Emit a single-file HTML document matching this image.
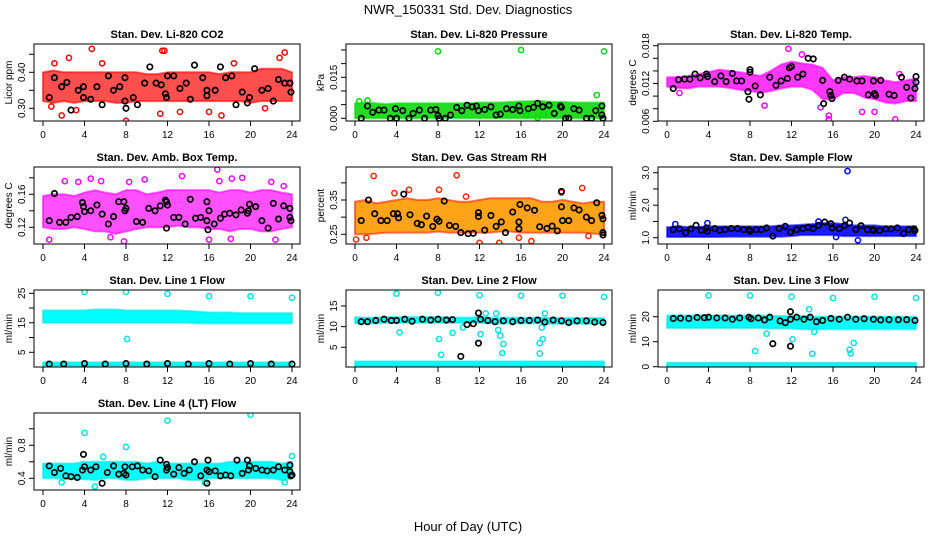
<!DOCTYPE html>
<html><head><meta charset="utf-8"><style>
body{margin:0;background:#fff;}
svg{display:block;font-family:"Liberation Sans",sans-serif;}
</style></head><body>
<svg id="chart" width="936" height="540" viewBox="0 0 936 540">
<text x="468" y="14" text-anchor="middle" font-size="13">NWR_150331 Std. Dev. Diagnostics</text>
<text x="468" y="531" text-anchor="middle" font-size="13">Hour of Day (UTC)</text>
</svg>
<script>
const hours = [0,1,2,3,4,5,6,7,8,9,10,11,12,13,14,15,16,17,18,19,20,21,22,23,24];
const xTicks = [0,4,8,12,16,20,24];

const co2Lo = [0.32,0.315,0.32,0.315,0.32,0.32,0.32,0.315,0.315,0.32,0.32,0.32,0.32,0.32,0.32,0.32,0.32,0.32,0.32,0.32,0.315,0.32,0.32,0.32,0.32];
const co2Hi = [0.40,0.405,0.40,0.40,0.40,0.40,0.40,0.40,0.40,0.40,0.395,0.395,0.40,0.40,0.40,0.40,0.40,0.395,0.40,0.40,0.40,0.41,0.41,0.41,0.40];
const co2Out = [[4.7,0.465],[11.5,0.46],[11.7,0.46],[23.3,0.455],[1.8,0.28],[8,0.265],[17.2,0.28],[11.3,0.285],[2.5,0.44],[22.8,0.44],[1.1,0.425],[18.4,0.425],[3.2,0.295],[16,0.29],[0.8,0.305],[21.4,0.30],[13.2,0.29],[5.7,0.425]];
const co2Blk = [[0.6,0.33],[1.1,0.385],[1.8,0.36],[2.3,0.372],[2.7,0.295],[3.4,0.35],[3.9,0.36],[3.9,0.33],[4.6,0.325],[5.2,0.36],[5.7,0.31],[6.3,0.39],[6.8,0.35],[7.4,0.36],[7.9,0.385],[7.9,0.32],[8,0.30],[8.7,0.33],[9.1,0.31],[9.8,0.37],[10.3,0.415],[10.9,0.37],[11.4,0.365],[11.8,0.34],[11.9,0.33],[12,0.39],[12.6,0.39],[13.2,0.355],[13.8,0.37],[14.2,0.325],[14.6,0.42],[15.4,0.385],[15.8,0.35],[15.8,0.335],[16.6,0.35],[17.1,0.415],[17.6,0.385],[18.2,0.39],[18.6,0.31],[19.2,0.345],[19.7,0.315],[19.9,0.33],[20.4,0.41],[21.1,0.35],[21.7,0.355],[22.2,0.32],[22.7,0.38],[23.3,0.37],[23.8,0.37],[23.9,0.345]];

const presLo = [0,0,0,0,0,0,0,0,0,0,0,0,0,0,0,0,0,0,0,0,0,0,0,0,0];
const presHi = [0.0055,0.0058,0.0055,0.0052,0.0055,0.0055,0.0055,0.0055,0.0055,0.0055,0.0055,0.0055,0.0058,0.0058,0.0058,0.006,0.0062,0.0063,0.0063,0.006,0.006,0.0058,0.0058,0.0058,0.0058];
const presOut = [[8,0.0245],[16,0.025],[24,0.0245],[23.3,0.0085],[1.2,0.0065],[0.4,0.0062],[16.5,0.0012],[18.2,0.0015],[17.6,0.0002]];
const presBlk = [[0.6,0],[1.2,0.0045],[1.7,0.0022],[2.3,0.003],[2.8,0.003],[3.4,0],[3.9,0.0035],[4,0],[4.6,0.0028],[5.2,0],[5.6,0.0018],[6.2,0.003],[6.7,0],[7.3,0.003],[7.8,0.0032],[8,0.001],[8.1,0],[8.7,0],[9.2,0.0012],[9.8,0.004],[10.3,0.0028],[10.8,0.0048],[11.3,0.0042],[11.7,0.0045],[11.9,0.0028],[12.5,0.0032],[13.1,0.0042],[13.6,0.0012],[14,0.0015],[14.6,0.0035],[15.2,0.0032],[15.8,0.0045],[15.9,0.0028],[16.7,0.0035],[17.2,0.004],[17.6,0.0055],[18.1,0.0042],[18.7,0.0048],[19.2,0.0018],[19.8,0.0045],[19.9,0.004],[20.3,0],[20.6,0],[21.1,0.0035],[21.6,0.003],[22.3,0],[22.8,0],[23.2,0.0028],[23.8,0.0045],[23.8,0.0012],[23.9,0]];

const tempLo = [0.0115,0.0113,0.0112,0.0115,0.0115,0.0115,0.0113,0.011,0.0108,0.0105,0.0108,0.0112,0.0115,0.0115,0.011,0.0095,0.0095,0.0105,0.0105,0.0098,0.0095,0.009,0.0088,0.0092,0.0092];
const tempHi = [0.013,0.013,0.0132,0.0135,0.0138,0.0142,0.014,0.0138,0.0135,0.0132,0.014,0.015,0.0155,0.0152,0.015,0.0145,0.0125,0.013,0.013,0.0132,0.013,0.0125,0.0122,0.0125,0.0128];
const tempOut = [[11.7,0.0175],[15.6,0.0063],[15.6,0.0069],[18.8,0.0075],[20,0.0075],[22,0.0063],[13,0.0166],[14.8,0.0082],[1.2,0.0105],[9.4,0.0085],[22.4,0.0135]];
const tempBlk = [[0.6,0.0112],[1.1,0.0126],[1.7,0.0127],[2.2,0.0127],[2.7,0.0135],[3.2,0.0129],[3.8,0.0135],[3.9,0.0131],[4.6,0.0123],[5.2,0.0132],[5.7,0.0123],[6.3,0.0136],[6.7,0.0124],[7.2,0.0124],[7.8,0.0107],[7.9,0.0095],[8,0.0142],[8,0.0138],[8.5,0.0116],[9,0.0102],[9.9,0.013],[10.5,0.0117],[11,0.0124],[11.6,0.0128],[11.8,0.0145],[12,0.0147],[12.6,0.013],[13.1,0.0135],[13.6,0.016],[14.1,0.0159],[15,0.0125],[15.1,0.0088],[15.7,0.0107],[15.8,0.0101],[15.9,0.0096],[16.5,0.0125],[17.1,0.013],[17.6,0.0127],[18.3,0.0124],[18.8,0.0124],[19.4,0.0102],[19.9,0.0124],[20,0.0104],[20.1,0.0101],[20.6,0.0125],[21.4,0.0103],[21.9,0.0101],[22.6,0.013],[23.1,0.0114],[23.5,0.0097],[24,0.0131],[24,0.0122],[23.9,0.0112]];

const ambLo = [0.12,0.118,0.118,0.12,0.118,0.115,0.115,0.112,0.115,0.118,0.12,0.12,0.12,0.122,0.12,0.12,0.118,0.118,0.115,0.118,0.118,0.115,0.115,0.118,0.12];
const ambHi = [0.158,0.16,0.16,0.158,0.162,0.165,0.162,0.16,0.165,0.165,0.16,0.162,0.165,0.165,0.165,0.165,0.165,0.162,0.165,0.165,0.162,0.165,0.165,0.162,0.16];
const ambOut = [[0.6,0.105],[2.1,0.176],[3.4,0.175],[4.6,0.179],[5.6,0.176],[8.3,0.175],[9.8,0.178],[13.4,0.182],[16.8,0.19],[17,0.176],[18.2,0.179],[19.2,0.18],[22,0.175],[23.2,0.17],[7.8,0.103],[16,0.105],[22.4,0.105],[18.1,0.106],[6.5,0.108]];
const ambBlk = [[0.6,0.128],[1.1,0.161],[1.6,0.126],[2.2,0.126],[2.7,0.132],[3.3,0.133],[3.8,0.15],[3.9,0.145],[4,0.139],[4.6,0.14],[5.2,0.147],[5.7,0.136],[6.3,0.124],[6.8,0.133],[7.3,0.151],[7.8,0.151],[7.9,0.14],[8,0.143],[8.6,0.093],[9,0.127],[9.6,0.126],[10.2,0.143],[10.8,0.14],[11.3,0.146],[11.8,0.153],[11.9,0.151],[11.9,0.119],[12,0.147],[12.6,0.132],[13.1,0.132],[13.7,0.124],[14.2,0.154],[14.7,0.131],[15.2,0.132],[15.8,0.128],[15.8,0.151],[15.9,0.117],[16,0.14],[16.5,0.124],[17.1,0.131],[17.5,0.136],[18,0.137],[18.6,0.135],[19.1,0.141],[19.7,0.137],[19.8,0.14],[19.9,0.148],[20.5,0.145],[21.1,0.128],[21.7,0.119],[22.2,0.149],[22.7,0.13],[23.2,0.146],[23.8,0.143],[23.8,0.132],[23.9,0.128]];

const rhLo = [0.25,0.25,0.252,0.255,0.255,0.255,0.255,0.255,0.258,0.255,0.255,0.255,0.255,0.255,0.258,0.258,0.255,0.255,0.255,0.255,0.255,0.255,0.255,0.252,0.25];
const rhHi = [0.345,0.35,0.34,0.345,0.35,0.355,0.35,0.35,0.355,0.35,0.345,0.345,0.35,0.355,0.355,0.355,0.355,0.355,0.345,0.345,0.35,0.345,0.34,0.345,0.345];
const rhOut = [[0.1,0.235],[1.8,0.42],[9.8,0.422],[12,0.225],[17,0.23],[21.9,0.385],[1.1,0.24],[8.1,0.38],[10.7,0.36],[13.9,0.225],[15.8,0.24],[22.5,0.245],[5.2,0.38],[3.8,0.37],[19.9,0.372]];
const rhBlk = [[0.6,0.29],[1.3,0.35],[1.9,0.31],[2.5,0.29],[3.1,0.29],[3.7,0.31],[4.1,0.31],[4.2,0.298],[4.7,0.367],[5.3,0.307],[6,0.282],[6.4,0.278],[6.9,0.303],[7.5,0.273],[7.9,0.294],[8.1,0.288],[8.6,0.347],[9.1,0.276],[9.7,0.273],[10.2,0.255],[10.9,0.252],[11.4,0.253],[11.9,0.313],[11.9,0.302],[12.5,0.262],[13.1,0.305],[13.6,0.273],[14.1,0.286],[14.5,0.255],[15.2,0.315],[15.8,0.286],[15.8,0.266],[15.9,0.337],[16.6,0.327],[17.3,0.32],[17.8,0.272],[18.5,0.267],[19,0.274],[19.5,0.26],[19.9,0.375],[19.9,0.33],[20,0.29],[20.6,0.29],[21.1,0.327],[21.6,0.321],[22.3,0.3],[22.8,0.29],[23.3,0.342],[23.8,0.305],[23.9,0.295],[23.9,0.255],[23.9,0.248]];

const sfLo = [1.02,1.02,1.02,1.02,1.02,1.02,1.03,1.03,1.03,1.03,1.03,1.03,1.05,1.08,1.08,1.08,1.08,1.05,1.05,1.05,1.05,1.05,1.05,1.05,1.05];
const sfHi = [1.32,1.35,1.33,1.33,1.35,1.35,1.35,1.35,1.35,1.35,1.35,1.38,1.38,1.4,1.42,1.45,1.45,1.42,1.38,1.38,1.38,1.35,1.35,1.35,1.35];
const sfOut = [[17.4,3.05],[17.2,1.55],[18.4,0.92],[14.6,1.5],[16.3,1.02],[3.9,1.45],[0.8,1.42]];
const sfBlk = [[0.6,1.25],[1.2,1.27],[1.8,1.15],[2.3,1.27],[2.8,1.38],[3.3,1.23],[3.8,1.3],[3.9,1.2],[4.6,1.28],[5.1,1.23],[5.6,1.25],[6.2,1.28],[6.8,1.28],[7.4,1.25],[7.9,1.25],[8,1.2],[8.6,1.25],[9.1,1.25],[9.6,1.3],[10.2,1.05],[10.8,1.28],[11.4,1.35],[11.9,1.17],[12.5,1.25],[13.1,1.28],[13.6,1.32],[14.1,1.28],[14.6,1.38],[15.2,1.48],[15.8,1.43],[15.9,1.3],[16.6,1.28],[17.1,1.37],[17.6,1.45],[18.2,1.25],[18.7,1.37],[19.3,1.25],[19.8,1.25],[19.9,1.22],[20.5,1.22],[21.1,1.27],[21.6,1.27],[22.2,1.3],[22.8,1.13],[23.3,1.25],[23.8,1.27],[23.9,1.22]];

const l1Lo = [15,15,15,15,15,15,15,15,15,15,15,15,15,15,15,14.8,14.8,14.8,14.8,14.8,14.8,14.8,14.8,14.8,14.8];
const l1Hi = [19.2,19.2,19.2,19.2,19.2,19.5,19.5,19.5,19.2,19.2,19.2,19.2,19.2,19.2,19,18.8,18.5,18.5,18.5,18.3,18.3,18.3,18.3,18.3,18.3];
const l1Out = [[4,25.5],[8,25.5],[12,24.8],[16,24],[20,24],[24,23.5],[8.1,9.5]];
const l1Blk = [[0.6,1],[2,1],[4,1.2],[6,1],[8,1.2],[10,1],[12,1.2],[14,1],[16,1.2],[18,1],[20,1.2],[22,1],[24,1]];

const l2Lo = [10.8,10.8,10.8,10.9,10.9,10.9,10.9,10.9,10.9,10.9,10.9,10.9,10.9,10.8,10.8,10.8,10.8,10.8,10.8,10.7,10.7,10.7,10.7,10.7,10.7];
const l2Hi = [12.3,12.2,12.2,12.3,12.3,12.3,12.3,12.3,12.3,12.3,12.2,12.2,12.3,12.2,12.2,12.2,12.2,12.2,12.2,12.1,12.1,12.1,12.1,12.1,12.1];
const l2Out = [[4,18],[8,18.2],[12,17.6],[16,17.5],[20,17.5],[24,17.2],[4.3,8.6],[8.1,7],[8.3,3.2],[9.4,8.5],[11.9,12],[12.1,8.2],[12.6,13.2],[13.6,13.2],[13.8,9.2],[14,7.8],[14.2,3.6],[14.3,5.8],[17.8,6],[17.8,3.5],[18,9.8],[18.1,7],[18.3,13.2],[10.4,9.8]];
const l2Blk = [[0.6,11.2],[1.2,11.2],[2,11.5],[2.8,11.8],[3.5,11.5],[4,11.5],[4.8,11.8],[5.5,11.3],[6.5,11.8],[7.3,11.6],[8,11.8],[8.8,11.6],[9.4,11.7],[10.2,2.8],[10.8,10.5],[11.4,10.7],[11.9,13.3],[11.9,6],[12.1,11.8],[12.8,11.5],[13.5,11.2],[14.3,11.4],[15.2,11.2],[16,11.5],[16.8,11.5],[17.6,11.6],[18.3,11.1],[19.1,11.6],[19.9,11.4],[20.6,11.0],[21.4,11.4],[22.3,11.4],[23.1,11.1],[23.9,11]];

const l3Lo = [15.5,15.5,15.5,15.5,15.5,15.5,15.5,15.5,15.5,15.5,15.3,15.3,15.3,15,15,15,15,15,15,15,15,15,15,15,15];
const l3Hi = [20.5,20.5,20.5,20.5,20.5,20.5,20.5,20.5,20.5,20.5,20.3,20.3,20.3,20.3,20,20,20,20,20,20,20,20,20,20,20];
const l3Out = [[4,28.5],[8,28.5],[12,28],[16,27.5],[20,28],[24,27.5],[8.5,6.3],[9.6,13.2],[12.1,11],[13.7,23],[14,5.2],[17.6,6.8],[17.7,5.3],[18,9.5],[14.2,14]];
const l3Blk = [[0.6,19.3],[1.3,19.4],[2.1,19.3],[2.9,19.7],[3.6,19.6],[4,19.8],[4.8,19.5],[5.6,19.5],[6.3,19],[7,19.5],[7.9,19.8],[8.1,19.2],[8.8,19.5],[9.4,18.7],[9.9,19.8],[10.2,9.2],[10.9,18.3],[11.4,17.6],[11.9,22],[11.9,19],[11.9,8.2],[12.5,19.8],[13.2,19],[13.8,19.8],[14.4,18],[15,18.5],[15.8,19.3],[16.6,19],[17.4,19.8],[18.2,19],[19,19.2],[19.9,19],[20.6,18.7],[21.4,18.8],[22.3,18.8],[23.1,18.8],[23.9,18.5]];

const l4Lo = [0.4,0.4,0.39,0.39,0.39,0.38,0.4,0.4,0.38,0.38,0.4,0.4,0.4,0.4,0.38,0.38,0.4,0.4,0.4,0.4,0.4,0.4,0.4,0.38,0.4];
const l4Hi = [0.58,0.58,0.58,0.58,0.6,0.6,0.6,0.6,0.6,0.6,0.58,0.6,0.58,0.58,0.58,0.58,0.58,0.58,0.6,0.6,0.6,0.6,0.6,0.58,0.6];
const l4Out = [[4,0.95],[12,1.1],[20,1.17],[8,0.78],[5,0.3],[24,0.67],[5.8,0.66],[1.8,0.35],[15.6,0.35],[23.3,0.35]];
const l4Blk = [[0.6,0.55],[1.1,0.47],[1.7,0.52],[2.2,0.43],[2.7,0.42],[3.3,0.41],[3.8,0.5],[3.9,0.69],[4,0.54],[4.6,0.5],[5.1,0.54],[5.7,0.34],[6.2,0.47],[6.8,0.55],[7.3,0.45],[7.8,0.46],[7.9,0.54],[8,0.44],[8.6,0.54],[9.1,0.55],[9.6,0.5],[10.2,0.49],[10.8,0.42],[11.3,0.62],[11.9,0.57],[11.9,0.5],[12,0.53],[12.6,0.45],[13.1,0.53],[13.6,0.46],[14.1,0.5],[14.6,0.6],[15.2,0.43],[15.8,0.34],[15.8,0.5],[15.9,0.62],[16,0.48],[16.6,0.49],[17.1,0.43],[17.6,0.44],[18.1,0.43],[18.7,0.62],[19.2,0.46],[19.7,0.62],[19.8,0.5],[19.9,0.55],[20.5,0.52],[21.1,0.5],[21.6,0.49],[22.2,0.5],[22.7,0.54],[23.3,0.5],[23.8,0.48],[23.8,0.56],[23.9,0.43],[24,0.44]];

const panels = [
 {n:'co2',c:0,r:0,t:'Stan. Dev. Li-820 CO2',yl:'Licor ppm',cal:[0.40,72.3,0.30,108.3],ticks:[0.30,0.35,0.40,0.45],labs:['0.30','0.40'],labv:[0.30,0.40],col:'#ff0000',fill:'#ff3030',op:0.85,bands:[[co2Lo,co2Hi]],out:co2Out,blk:co2Blk},
 {n:'pressure',c:1,r:0,t:'Stan. Dev. Li-820 Pressure',yl:'kPa',cal:[0,118.3,0.015,77.3],ticks:[0,0.005,0.01,0.015,0.02,0.025],labs:['0.000','0.015'],labv:[0,0.015],col:'#00dd00',fill:'#22dd22',op:1,bands:[[presLo,presHi]],out:presOut,blk:presBlk},
 {n:'li820-temp',c:2,r:0,t:'Stan. Dev. Li-820 Temp.',yl:'degrees C',cal:[0.018,45.7,0.006,121.3],ticks:[0.006,0.008,0.01,0.012,0.014,0.016,0.018],labs:['0.006','0.012','0.018'],labv:[0.006,0.012,0.018],col:'#ff00ff',fill:'#ff22ff',op:0.9,bands:[[tempLo,tempHi]],out:tempOut,blk:tempBlk},
 {n:'amb-box-temp',c:0,r:1,t:'Stan. Dev. Amb. Box Temp.',yl:'degrees C',cal:[0.16,194.3,0.12,227.3],ticks:[0.12,0.14,0.16,0.18],labs:['0.12','0.16'],labv:[0.12,0.16],col:'#ff00ff',fill:'#ff33ff',op:0.85,bands:[[ambLo,ambHi]],out:ambOut,blk:ambBlk},
 {n:'gas-stream-rh',c:1,r:1,t:'Stan. Dev. Gas Stream RH',yl:'percent',cal:[0.35,200,0.25,234.3],ticks:[0.25,0.30,0.35,0.40],labs:['0.25','0.35'],labv:[0.25,0.35],col:'#ff2200',fill:'#ff9a00',op:0.9,bands:[[rhLo,rhHi]],out:rhOut,blk:rhBlk},
 {n:'sample-flow',c:2,r:1,t:'Stan. Dev. Sample Flow',yl:'ml/min',cal:[3.0,172.7,1.0,237.7],ticks:[1,1.5,2,2.5,3],labs:['1.0','2.0','3.0'],labv:[1,2,3],col:'#0000ff',fill:'#1a1aff',op:1,bands:[[sfLo,sfHi]],out:sfOut,blk:sfBlk},
 {n:'line1-flow',c:0,r:2,t:'Stan. Dev. Line 1 Flow',yl:'ml/min',cal:[25,293.3,5,352.3],ticks:[5,10,15,20,25],labs:['5','15','25'],labv:[5,15,25],col:'#00e5e5',fill:'#00ffff',op:1,bands:[[l1Lo,l1Hi],[hours.map(()=>0.4),hours.map(()=>1.6)]],out:l1Out,blk:l1Blk},
 {n:'line2-flow',c:1,r:2,t:'Stan. Dev. Line 2 Flow',yl:'ml/min',cal:[15,306,5,347.3],ticks:[5,10,15],labs:['5','10','15'],labv:[5,10,15],col:'#00e5e5',fill:'#00ffff',op:1,bands:[[l2Lo,l2Hi],[hours.map(()=>0.4),hours.map(()=>1.6)]],out:l2Out,blk:l2Blk},
 {n:'line3-flow',c:2,r:2,t:'Stan. Dev. Line 3 Flow',yl:'ml/min',cal:[20,316.7,0,366.7],ticks:[0,10,20],labs:['0','10','20'],labv:[0,10,20],col:'#00e5e5',fill:'#00ffff',op:1,bands:[[l3Lo,l3Hi],[hours.map(()=>0),hours.map(()=>1.6)]],out:l3Out,blk:l3Blk},
 {n:'line4-flow',c:0,r:3,t:'Stan. Dev. Line 4 (LT) Flow',yl:'ml/min',cal:[0.8,445.3,0.4,478.3],ticks:[0.4,0.6,0.8,1.0],labs:['0.4','0.8'],labv:[0.4,0.8],col:'#00e5e5',fill:'#00ffff',op:1,bands:[[l4Lo,l4Hi]],out:l4Out,blk:l4Blk}
];

const NS='http://www.w3.org/2000/svg';
const svg=document.getElementById('chart');
function mk(tag,parent,attrs){const e=document.createElementNS(NS,tag);for(const k in attrs)e.setAttribute(k,attrs[k]);parent.appendChild(e);return e;}

panels.forEach(p=>{
  const x0=43+312*p.c, x24=292+312*p.c;
  const top=44+123*p.r, bot=top+77;
  const left=x0-9, right=x24+8;
  const xs=h=>x0+(x24-x0)*h/24;
  const [v1,y1,v2,y2]=p.cal;
  const ys=v=>y1+(v-v1)*(y2-y1)/(v2-v1);
  const g=mk('g',svg,{});
  
  
  const clip=mk('clipPath',g,{id:'clip-'+p.n});
  mk('rect',clip,{x:left,y:top,width:right-left,height:bot-top});
  const plot=mk('g',g,{'clip-path':'url(#clip-'+p.n+')'});
  p.bands.forEach(b=>{
    const lo=b[0],hi=b[1];
    let d='M'+hours.map((h,i)=>xs(h)+','+ys(hi[i])).join(' L');
    d+=' L'+hours.slice().reverse().map((h,j)=>{const i=hours.length-1-j;return xs(h)+','+ys(lo[i]);}).join(' L')+' Z';
    const path=mk('path',plot,{d:d,fill:p.fill,'fill-opacity':p.op,stroke:p.col,'stroke-opacity':0.6,'stroke-width':2,'stroke-linejoin':'round'});
    
    
  });
  p.out.forEach(pt=>{
    const c=mk('circle',plot,{cx:xs(pt[0]),cy:ys(pt[1]),r:2.6,fill:'none',stroke:p.col,'stroke-width':1.5});
    
    
  });
  p.blk.forEach(pt=>{
    const c=mk('circle',plot,{cx:xs(pt[0]),cy:ys(pt[1]),r:2.7,fill:'none',stroke:'#000','stroke-width':1.7});
    
    
  });
  const box=mk('rect',g,{x:left,y:top,width:right-left,height:bot-top,fill:'none',stroke:'#000','stroke-width':1});
  
  
  const tt=mk('text',g,{x:(left+right)/2,y:top-6,'text-anchor':'middle','font-size':11,'font-weight':'bold'});
  tt.textContent=p.t;
  
  
  mk('line',g,{x1:x0,y1:bot,x2:x24,y2:bot,stroke:'#000'});
  xTicks.forEach(h=>{
    mk('line',g,{x1:xs(h),y1:bot,x2:xs(h),y2:bot+5,stroke:'#000'});
    const t=mk('text',g,{x:xs(h),y:bot+17,'text-anchor':'middle','font-size':10});
    t.textContent=h;
    
    
  });
  const tv=p.ticks.filter(v=>ys(v)>=top-1&&ys(v)<=bot+1);
  mk('line',g,{x1:left,y1:ys(tv[0]),x2:left,y2:ys(tv[tv.length-1]),stroke:'#000'});
  tv.forEach(v=>mk('line',g,{x1:left-5,y1:ys(v),x2:left,y2:ys(v),stroke:'#000'}));
  p.labs.forEach((l,i)=>{
    const y=ys(p.labv[i]);
    const t=mk('text',g,{x:left-9,y:y,'text-anchor':'middle','font-size':10,transform:'rotate(-90 '+(left-9)+' '+y+')'});
    t.textContent=l;
    
    
  });
  const yl=mk('text',g,{x:left-22,y:(top+bot)/2,'text-anchor':'middle','font-size':10,transform:'rotate(-90 '+(left-22)+' '+((top+bot)/2)+')'});
  yl.textContent=p.yl;
  
  
});
</script>
</body></html>
